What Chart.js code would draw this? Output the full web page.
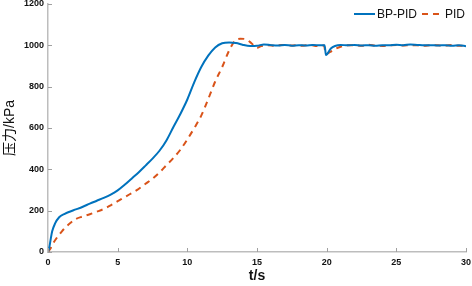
<!DOCTYPE html>
<html>
<head>
<meta charset="utf-8">
<script src="https://cdn.jsdelivr.net/npm/chart.js@4/dist/chart.umd.min.js"></script>
<style>
html,body{margin:0;padding:0;background:#fff;}
canvas{display:block;}
</style>
</head>
<body>
<canvas id="c" width="472" height="286"></canvas>
<script>
// Time (s) and pressure (kPa) for BP-PID
const tBP = [0,0.1,0.2,0.3,0.5,0.8,1.2,1.6,2.0,2.5,3.0,3.5,4.0,4.5,5.0,5.5,6.0,6.5,7.0,7.5,8.0,8.5,9.0,9.5,10.0,10.5,11.0,11.5,12.0,12.5,13.0,13.5,14.0,14.5,15.0,15.5,16,16.5,17,17.5,18,18.5,19,19.5,19.85,19.95,20.3,20.6,21.0,21.5,22,22.5,23,23.5,24,24.5,25,25.5,26,26.5,27,27.5,28,28.5,29,29.5,30];
const pBP = [0,25,65,100,137,168,185,196,206,219,234,248,262,278,298,325,355,385,418,452,490,540,605,668,738,822,895,950,990,1010,1014,1011,1002,997,998,1004,1001,999,1002,998,1001,999,1002,1000,1001,953,985,997,1002,1000,1002,999,1001,998,1001,1000,1003,1001,1004,1002,1000,1001,999,1001,998,1000,996];
// Time (s) and pressure (kPa) for PID
const tPID = [0,0.2,0.4,0.7,1.0,1.3,1.6,2.0,2.5,3.0,3.5,4.0,4.5,5.0,5.5,6.0,6.5,7.0,7.5,8.0,8.5,9.0,9.5,10.0,10.5,11.0,11.5,12.0,12.5,13.0,13.4,13.8,14.2,14.6,15.0,15.3,15.8,16.3,16.8,17.3,17.8,18.3,18.8,19.3,19.8,19.95,20.3,20.6,21.0,21.5,22,22.5,23,23.5,24,24.5,25,25.5,26,26.5,27,27.5,28,28.5,29,29.5,30];
const pPID = [0,20,45,75,100,122,140,160,172,183,195,208,226,246,265,285,305,330,355,385,420,455,495,545,600,660,740,825,895,975,1020,1032,1030,1010,988,996,1001,998,1002,999,1000,998,1002,997,999,958,970,982,993,1000,1001,998,1003,999,997,1000,1002,999,1001,1000,998,1001,1000,999,1002,998,999];
const seriesNames = ['BP-PID','PID'];
const xTicks = [0,5,10,15,20,25,30];
const yTicks = [0,200,400,600,800,1000,1200];

const toPts = (t,p) => t.map((x,i)=>({x:x,y:p[i]}));
const axisColor = '#bdbdbd';
const FONT = 'Arial, "Liberation Sans", sans-serif';

const inwardTicks = {
  id:'inwardTicks',
  afterDraw(chart){
    const ctx = chart.ctx, xs = chart.scales.x, ys = chart.scales.y;
    ctx.save();
    ctx.strokeStyle = '#a0a0a0';
    ctx.lineWidth = 1;
    ctx.beginPath();
    xTicks.forEach(v=>{ const px = Math.round(xs.getPixelForValue(v))+0.5; ctx.moveTo(px, ys.bottom); ctx.lineTo(px, ys.bottom-4); });
    yTicks.forEach(v=>{ const py = Math.round(ys.getPixelForValue(v))+0.5; ctx.moveTo(xs.left, py); ctx.lineTo(xs.left+4, py); });
    ctx.stroke();
    ctx.restore();
  }
};

// Legend drawn in the top-right corner of the plot area (MATLAB style)
const cornerLegend = {
  id:'cornerLegend',
  afterDraw(chart){
    const ctx = chart.ctx, area = chart.chartArea;
    ctx.save();
    ctx.font = '12px ' + FONT;
    ctx.textBaseline = 'middle';
    const lineLen = 21, gapAfterLine = 2, gapBetween = 5;
    const y = area.top + 10;
    const widths = seriesNames.map(n => ctx.measureText(n).width);
    let total = 0;
    widths.forEach((w,i)=>{ total += lineLen + gapAfterLine + w + (i < widths.length-1 ? gapBetween : 0); });
    let x = area.right - 1 - total;
    chart.data.datasets.forEach((ds,i)=>{
      ctx.strokeStyle = ds.borderColor;
      ctx.lineWidth = 2;
      ctx.setLineDash(ds.borderDash || []);
      ctx.beginPath();
      ctx.moveTo(x, y); ctx.lineTo(x + lineLen, y);
      ctx.stroke();
      ctx.setLineDash([]);
      x += lineLen + gapAfterLine;
      ctx.fillStyle = '#111';
      ctx.fillText(seriesNames[i], x, y + 0.5);
      x += widths[i] + gapBetween;
    });
    ctx.restore();
  }
};

new Chart(document.getElementById('c'), {
  type:'line',
  data:{
    datasets:[
      {label:seriesNames[0], data:toPts(tBP,pBP), borderColor:'#0072BD', backgroundColor:'#0072BD', borderWidth:2, pointRadius:0, cubicInterpolationMode:'monotone'},
      {label:seriesNames[1], data:toPts(tPID,pPID), borderColor:'#D95319', backgroundColor:'#D95319', borderWidth:2, borderDash:[6,5], pointRadius:0, cubicInterpolationMode:'monotone'}
    ]
  },
  options:{
    responsive:false,
    animation:false,
    layout:{padding:{left:0,right:6,top:4,bottom:0}},
    plugins:{
      legend:{display:false},
      tooltip:{enabled:false}
    },
    scales:{
      x:{
        type:'linear', min:0, max:30,
        afterBuildTicks(s){ s.ticks = xTicks.map(v=>({value:v})); },
        afterFit(s){ s.height = 34; s.paddingLeft = 0; s.paddingRight = 0; },
        grid:{drawOnChartArea:false, drawTicks:false},
        border:{color:axisColor, width:1.5},
        ticks:{padding:5, color:'#111', callback:v=>String(v), font:{family:FONT, size:9, weight:'bold'}},
        title:{display:true, text:'t/s', color:'#111', font:{family:FONT, size:14, weight:'bold'}, padding:{top:0,bottom:1}}
      },
      y:{
        type:'linear', min:0, max:1200,
        afterBuildTicks(s){ s.ticks = yTicks.map(v=>({value:v})); },
        afterFit(s){ s.width = 48; s.paddingTop = 0; s.paddingBottom = 0; },
        grid:{drawOnChartArea:false, drawTicks:false},
        border:{color:axisColor, width:1.5},
        ticks:{padding:4, color:'#111', callback:v=>String(v), font:{family:FONT, size:9, weight:'bold'}},
        title:{display:true, text:'压力/kPa', color:'#111', font:{family:'Arial, "Noto Sans CJK SC", sans-serif', size:14}, padding:{top:2,bottom:0}}
      }
    }
  },
  plugins:[inwardTicks, cornerLegend]
});
</script>
</body>
</html>
